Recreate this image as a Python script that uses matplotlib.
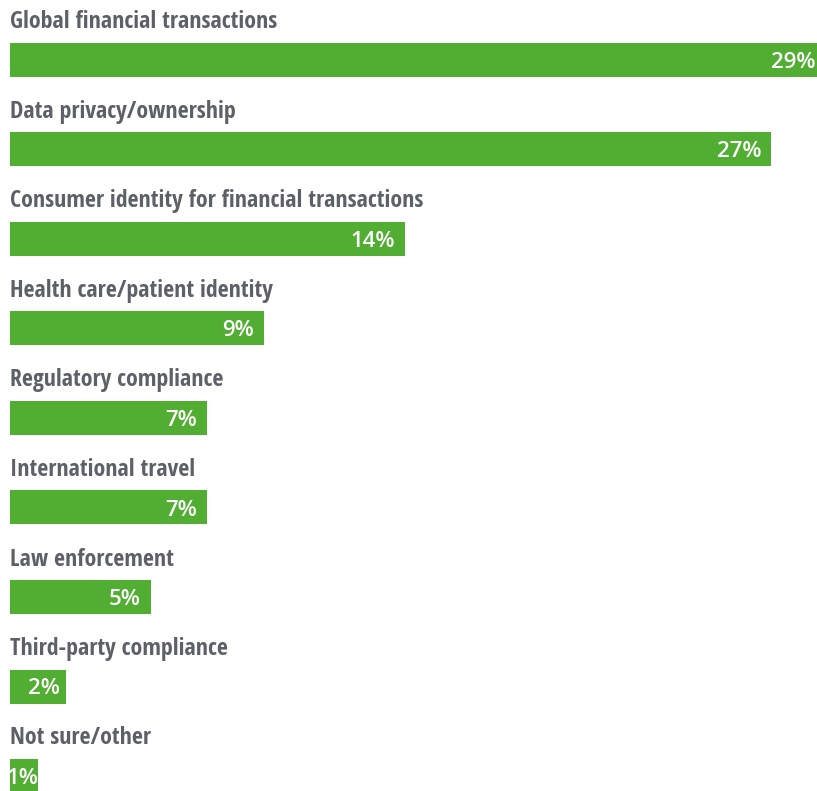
# Barras horizontales con etiqueta encima de cada barra
import numpy as np
import matplotlib.pyplot as plt

# categorias y valores (%)
Categorias = [
    "Global financial transactions",
    "Data privacy/ownership",
    "Consumer identity for financial transactions",
    "Health care/patient identity",
    "Regulatory compliance",
    "International travel",
    "Law enforcement",
    "Third-party compliance",
    "Not sure/other",
]
Valores = [29, 27, 14, 9, 7, 7, 5, 2, 1]

Verde = "#52ae32"
Gris = "#5e6068"

Ancho, Alto = 817, 791
fig = plt.figure(figsize=(Ancho / 100, Alto / 100), dpi=100)

# ejes en pixeles: izquierda 10 px, filas separadas 89.5 px
Paso = 89.5
Arriba = 60 - Paso / 2
Altura_ax = Paso * len(Categorias)
ax = fig.add_axes([
    10 / Ancho,
    (Alto - Arriba - Altura_ax) / Alto,
    (Ancho - 10) / Ancho,
    Altura_ax / Alto,
])

Px_por_punto = 28.2
Xmax = (Ancho - 10) / Px_por_punto
ax.set_xlim(0, Xmax)
ax.set_ylim(len(Categorias) - 0.5, -0.5)
ax.axis("off")

Posiciones = np.arange(len(Categorias))
ax.barh(Posiciones, Valores, height=34 / Paso, color=Verde)

Fuente_titulo = ["Open Sans Condensed", "Liberation Sans Narrow", "Open Sans", "DejaVu Sans"]

for i, (Nombre, Valor) in enumerate(zip(Categorias, Valores)):
    # etiqueta de la categoria
    ax.text(0, i - 31.5 / Paso, Nombre, ha="left", va="baseline",
            fontsize=17.2, fontweight="bold", color=Gris,
            family=Fuente_titulo, fontstretch="condensed")

    # valor dentro de la barra
    Ancho_barra = Valor * Px_por_punto
    Margen = min(10, max(0, Ancho_barra - 50))
    Fin = min(Ancho_barra - Margen, Ancho - 10 - 2)
    ax.annotate(f"{Valor}%", xy=(0, i), xytext=(Fin, -2.5),
                textcoords="offset pixels", ha="right", va="center",
                fontsize=16, fontweight="semibold", color="white",
                family=["Open Sans", "DejaVu Sans"], annotation_clip=False)

fig.savefig("out.png", dpi=100)
